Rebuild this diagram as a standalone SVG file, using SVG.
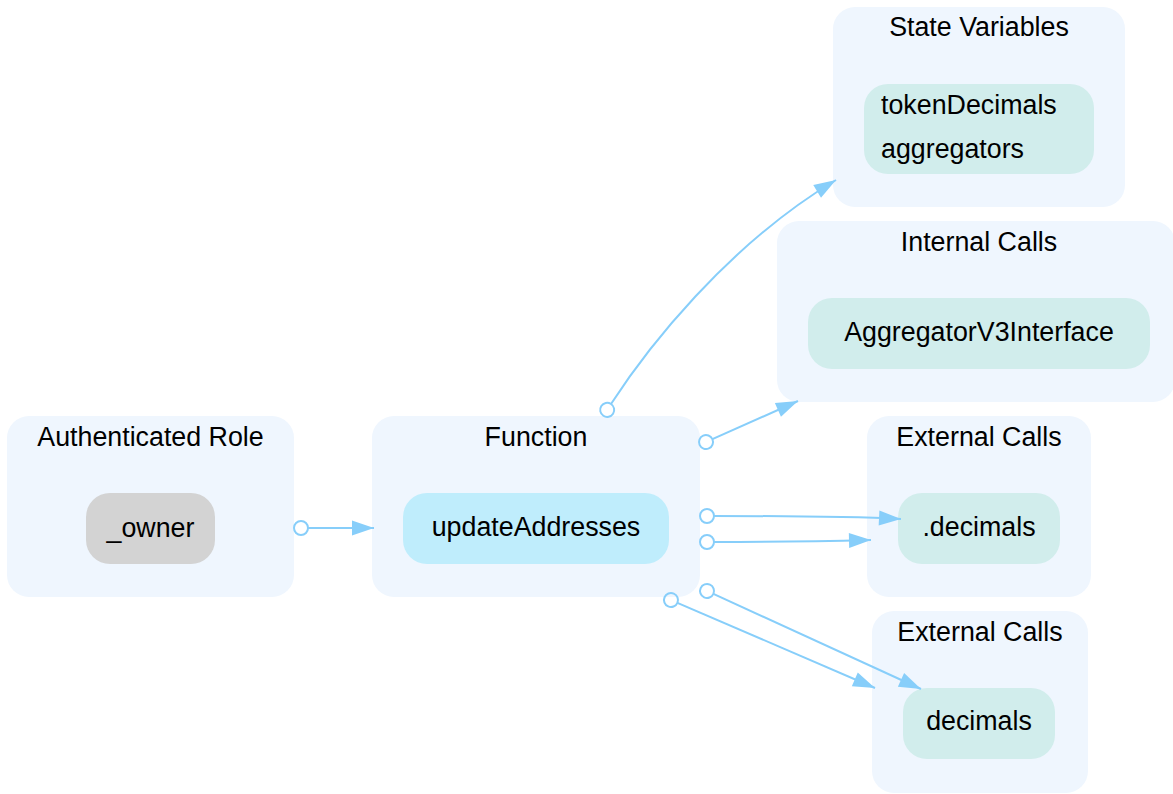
<svg xmlns="http://www.w3.org/2000/svg" width="1173" height="794" viewBox="0 0 1173 794">
<style>
.cl{fill:#eff6fe;stroke:none}
.nd{fill:#d1edec;stroke:none}
.fn{fill:#bfedfc;stroke:none}
.rl{fill:#d3d3d3;stroke:none}
text{font-family:"Liberation Sans",Arial,sans-serif;font-size:26.8px;fill:#000}
.c{text-anchor:middle}
.e{fill:none;stroke:#87cefa;stroke-width:2;marker-start:url(#dot);marker-end:url(#arr)}
</style>
<defs>
<marker id="arr" markerUnits="userSpaceOnUse" markerWidth="24" markerHeight="18" viewBox="0 0 24 18" refX="22" refY="9" orient="auto" overflow="visible">
<polygon points="0,1.5 22,9 0,16.5" fill="#87cefa"/>
</marker>
<marker id="dot" markerUnits="userSpaceOnUse" markerWidth="18" markerHeight="18" viewBox="0 0 18 18" refX="16" refY="9" orient="auto" overflow="visible">
<circle cx="9" cy="9" r="7" fill="none" stroke="#87cefa" stroke-width="2"/>
</marker>
</defs>
<g id="cluster-role">
<rect class="cl" x="7" y="416" width="287" height="181" rx="22"/>
<text class="c" x="150.5" y="446">Authenticated Role</text>
</g>
<g id="node-owner">
<rect class="rl" x="86" y="493" width="129" height="71" rx="24"/>
<text class="c" x="150.5" y="537">_owner</text>
</g>
<g id="cluster-function">
<rect class="cl" x="372" y="416" width="328" height="181" rx="22"/>
<text class="c" x="536" y="446">Function</text>
</g>
<g id="node-updateAddresses">
<rect class="fn" x="403" y="493" width="266" height="71" rx="24"/>
<text class="c" x="536" y="536">updateAddresses</text>
</g>
<g id="cluster-state">
<rect class="cl" x="833" y="7" width="292" height="200" rx="22"/>
<text class="c" x="979" y="36">State Variables</text>
</g>
<g id="node-state">
<rect class="nd" x="864" y="84" width="230" height="90" rx="24"/>
<text x="881" y="114">tokenDecimals</text>
<text x="881" y="158">aggregators</text>
</g>
<g id="cluster-internal">
<rect class="cl" x="777" y="221" width="398" height="181" rx="22"/>
<text class="c" x="979" y="251">Internal Calls</text>
</g>
<g id="node-aggregator">
<rect class="nd" x="808" y="298" width="342" height="71" rx="24"/>
<text class="c" x="979" y="341">AggregatorV3Interface</text>
</g>
<g id="cluster-external1">
<rect class="cl" x="867" y="416" width="224" height="181" rx="22"/>
<text class="c" x="979" y="446">External Calls</text>
</g>
<g id="node-dot-decimals">
<rect class="nd" x="898" y="493" width="162" height="71" rx="24"/>
<text class="c" x="979" y="536">.decimals</text>
</g>
<g id="cluster-external2">
<rect class="cl" x="872" y="611" width="216" height="182" rx="22"/>
<text class="c" x="980" y="641">External Calls</text>
</g>
<g id="node-decimals">
<rect class="nd" x="903" y="688" width="152" height="71" rx="24"/>
<text class="c" x="979" y="730">decimals</text>
</g>
<g id="connectors">
<path class="e" d="M308,528 L374,528"/>
<path class="e" d="M611,404 C646,350 726,246 836,180"/>
<path class="e" d="M712.4,439.2 L798,401"/>
<path class="e" d="M714,516 C780,516 840,516 901,519"/>
<path class="e" d="M714,542 C780,542 830,541 871,540"/>
<path class="e" d="M713.4,593.9 L921,689"/>
<path class="e" d="M677.4,602.8 L875,688"/>
</g>
</svg>
